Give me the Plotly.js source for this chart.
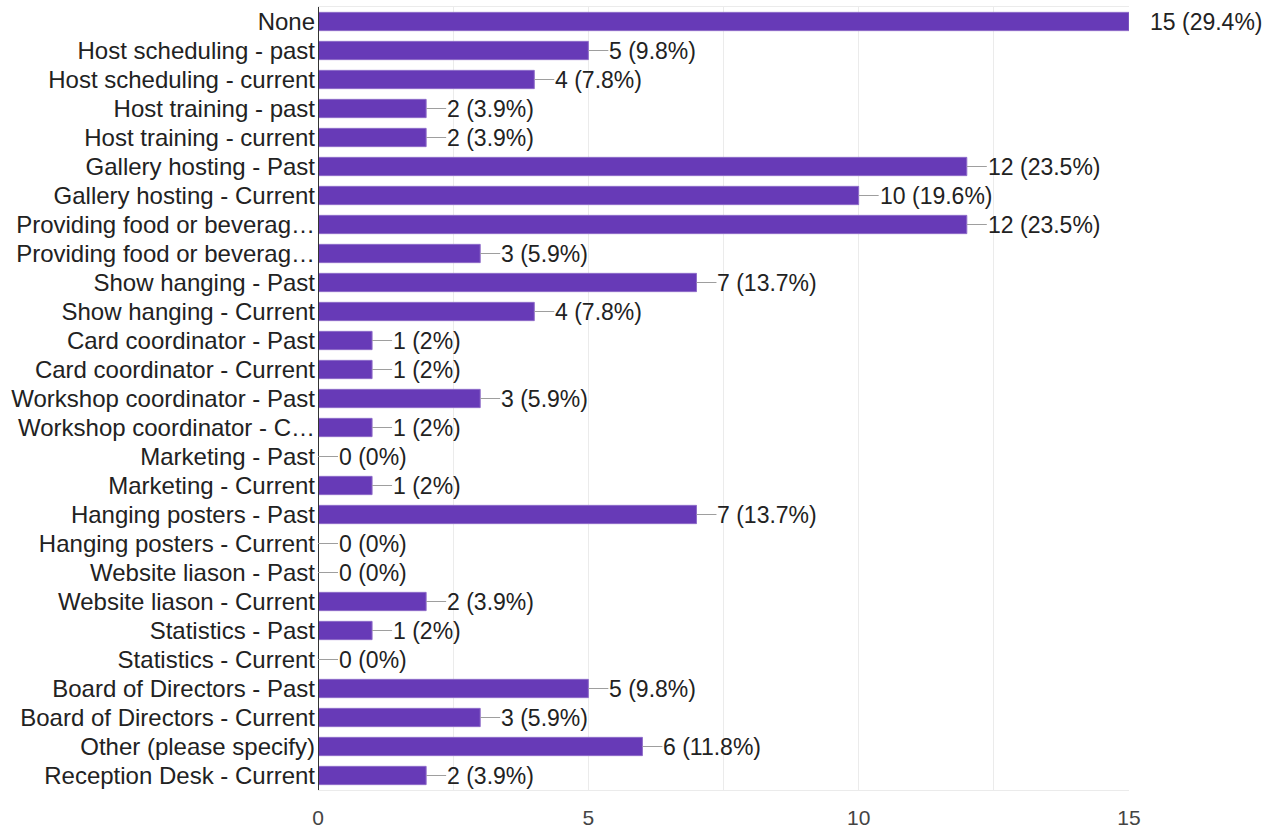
<!DOCTYPE html>
<html>
<head>
<meta charset="utf-8">
<script src="https://cdn.plot.ly/plotly-3.0.1.min.js"></script>
<style>html,body{margin:0;padding:0;background:#fff;}#chart{width:1272px;height:831px;}</style>
</head>
<body>
<div id="chart"></div>
<script>
const labels = [
  "None",
  "Host scheduling - past",
  "Host scheduling - current",
  "Host training - past",
  "Host training - current",
  "Gallery hosting - Past",
  "Gallery hosting - Current",
  "Providing food or beverag\u2026",
  "Providing food or beverag\u2026",
  "Show hanging - Past",
  "Show hanging - Current",
  "Card coordinator - Past",
  "Card coordinator - Current",
  "Workshop coordinator - Past",
  "Workshop coordinator - C\u2026",
  "Marketing - Past",
  "Marketing - Current",
  "Hanging posters - Past",
  "Hanging posters - Current",
  "Website liason - Past",
  "Website liason - Current",
  "Statistics - Past",
  "Statistics - Current",
  "Board of Directors - Past",
  "Board of Directors - Current",
  "Other (please specify)",
  "Reception Desk - Current"
];
const counts = [15, 5, 4, 2, 2, 12, 10, 12, 3, 7, 4, 1, 1, 3, 1, 0, 1, 7, 0, 0, 2, 1, 0, 5, 3, 6, 2];
const percents = ["29.4%", "9.8%", "7.8%", "3.9%", "3.9%", "23.5%", "19.6%", "23.5%", "5.9%", "13.7%", "7.8%", "2%", "2%", "5.9%", "2%", "0%", "2%", "13.7%", "0%", "0%", "3.9%", "2%", "0%", "9.8%", "5.9%", "11.8%", "3.9%"];
const xTicks = [0, 5, 10, 15];

const idx = labels.map((_, i) => i);
const xMax = 15;
const FONT = 'Liberation Sans, Arial, sans-serif';

const trace = {
  type: 'bar',
  orientation: 'h',
  x: counts,
  y: idx,
  marker: {color: '#673ab7', line: {color: '#8e6cc9', width: 1}},
  hoverinfo: 'skip'
};

const annotations = counts.map((c, i) => ({
  x: c,
  y: i,
  xref: 'x',
  yref: 'y',
  text: c + ' (' + percents[i] + ')',
  showarrow: true,
  arrowhead: 0,
  arrowwidth: 1,
  arrowcolor: c >= xMax ? 'rgba(0,0,0,0)' : '#9e9e9e',
  ax: 20,
  ay: 0,
  xanchor: 'left',
  yanchor: 'middle',
  standoff: 0,
  startstandoff: 0,
  borderpad: 0,
  font: {family: FONT, size: 23, color: '#222'}
}));

const layout = {
  width: 1272,
  height: 831,
  margin: {l: 318, r: 143, t: 7, b: 41},
  paper_bgcolor: '#fff',
  plot_bgcolor: '#fff',
  showlegend: false,
  bargap: 0.37,
  font: {family: FONT, size: 23, color: '#222'},
  xaxis: {
    range: [0, xMax],
    tickmode: 'array',
    tickvals: xTicks,
    ticktext: xTicks.map(String),
    showgrid: true,
    gridcolor: '#ebebeb',
    gridwidth: 1,
    minor: {dtick: 2.5, showgrid: true, gridcolor: '#ebebeb', gridwidth: 1},
    zeroline: false,
    showline: true,
    linecolor: '#ebebeb',
    linewidth: 1,
    mirror: true,
    ticks: '',
    ticklabelstandoff: 9,
    tickfont: {family: FONT, size: 21, color: '#444'},
    fixedrange: true
  },
  yaxis: {
    range: [labels.length - 0.5, -0.5],
    tickmode: 'array',
    tickvals: idx,
    ticktext: labels,
    showgrid: false,
    zeroline: false,
    showline: false,
    ticks: '',
    ticklabelstandoff: 2,
    tickfont: {family: FONT, size: 24, color: '#222'},
    fixedrange: true
  },
  shapes: [{
    type: 'line', xref: 'x', yref: 'paper', x0: 0, x1: 0, y0: 0, y1: 1,
    line: {color: '#333', width: 2}
  }],
  annotations: annotations
};

Plotly.newPlot('chart', [trace], layout, {staticPlot: true, displayModeBar: false});
</script>
</body>
</html>
